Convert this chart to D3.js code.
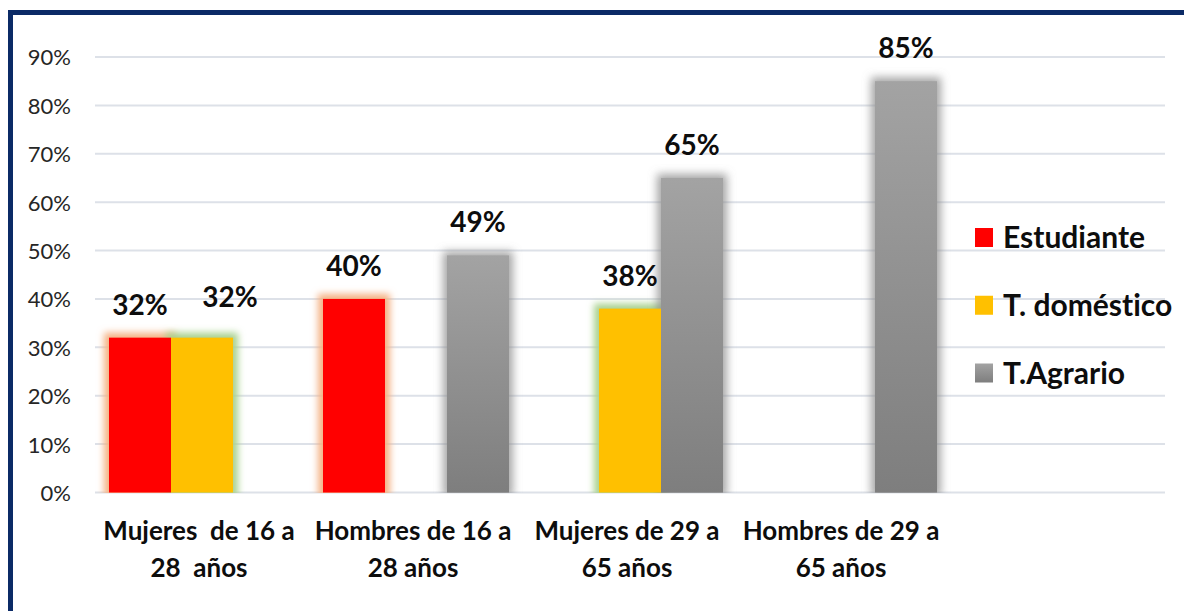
<!DOCTYPE html>
<html>
<head>
<meta charset="utf-8">
<script src="https://cdn.jsdelivr.net/npm/d3@7"></script>
<style>
  html, body { margin: 0; padding: 0; background: #fff; }
  svg { display: block; }
  text { font-variant-ligatures: none; font-feature-settings: "liga" 0, "clig" 0; }
</style>
</head>
<body>
<svg id="chart" width="1184" height="611"></svg>
<script>
// ---- data ----
const categories = ["Mujeres  de 16 a 28  años", "Hombres de 16 a 28 años", "Mujeres de 29 a 65 años", "Hombres de 29 a 65 años"];
const categoryLines = [["Mujeres  de 16 a", "28  años"], ["Hombres de 16 a", "28 años"], ["Mujeres de 29 a", "65 años"], ["Hombres de 29 a", "65 años"]];
const seriesNames = ["Estudiante", "T. doméstico", "T.Agrario"];
const estudiante = [0.32, 0.40, null, null];
const domestico = [0.32, null, 0.38, null];
const agrario = [null, 0.49, 0.65, 0.85];
const yTicks = [0, 0.1, 0.2, 0.3, 0.4, 0.5, 0.6, 0.7, 0.8, 0.9];

const seriesValues = [estudiante, domestico, agrario];
const seriesFill = ["#ff0000", "#ffc000", "url(#grayGrad)"];
const seriesGlow = ["glowRed", "glowGreen", "glowGray"];

const svg = d3.select("#chart");
const defs = svg.append("defs");

// gray gradient
const gg = defs.append("linearGradient").attr("id", "grayGrad")
  .attr("x1", 0).attr("y1", 0).attr("x2", 0).attr("y2", 1);
gg.append("stop").attr("offset", "0%").attr("stop-color", "#a3a3a3");
gg.append("stop").attr("offset", "100%").attr("stop-color", "#7e7e7e");

function glow(id, color, opacity, dil, blur) {
  const f = defs.append("filter").attr("id", id)
    .attr("x", "-50%").attr("y", "-50%").attr("width", "200%").attr("height", "200%");
  f.append("feMorphology").attr("in", "SourceAlpha").attr("operator", "dilate").attr("radius", dil).attr("result", "d");
  f.append("feGaussianBlur").attr("in", "d").attr("stdDeviation", blur).attr("result", "b");
  f.append("feFlood").attr("flood-color", color).attr("flood-opacity", opacity);
  f.append("feComposite").attr("in2", "b").attr("operator", "in");
}
glow("glowRed", "#f4b183", 1, 5, 3.5);
glow("glowGreen", "#a9d18e", 1, 5, 3.5);
glow("glowGray", "#8a8a8a", 0.75, 4, 4);

defs.append("clipPath").attr("id", "plotClip")
  .append("rect").attr("x", 0).attr("y", 0).attr("width", 1184).attr("height", 493);

// ---- scales ----
const x = d3.scaleBand().domain(categories).range([95, 951]).paddingInner(28 / 214).paddingOuter(14 / 214);
const xs = d3.scaleBand().domain(seriesNames).range([0, x.bandwidth()]).padding(0);
const y = d3.scaleLinear().domain([0, 0.9]).range([492.5, 57]);

// border
svg.append("path")
  .attr("d", "M10.5,620 L10.5,12.5 L1200,12.5")
  .attr("fill", "none").attr("stroke", "#0b2a66").attr("stroke-width", 5);

// gridlines
svg.append("g").selectAll("line").data(yTicks).join("line")
  .attr("x1", 95).attr("x2", 1165)
  .attr("y1", d => y(d)).attr("y2", d => y(d))
  .attr("stroke", "#dde1e8").attr("stroke-width", 2);

// y axis labels
const yAxis = d3.axisLeft(y).tickValues(yTicks).tickFormat(d3.format(".0%")).tickSize(0).tickPadding(0);
const yg = svg.append("g").attr("transform", "translate(71,0)").call(yAxis);
yg.select(".domain").remove();
yg.selectAll("text")
  .attr("font-family", "Lato, 'Liberation Sans', sans-serif")
  .attr("font-size", 22).attr("fill", "#262626").attr("dy", "0.36em");

// bars
const flat = [];
seriesValues.forEach((vals, si) => vals.forEach((v, ci) => {
  if (v != null) flat.push({ s: seriesNames[si], si, c: categories[ci], v });
}));

const glowLayer = svg.append("g").attr("clip-path", "url(#plotClip)");
glowLayer.selectAll("rect").data(flat).join("rect")
  .attr("x", d => x(d.c) + xs(d.s)).attr("width", xs.bandwidth())
  .attr("y", d => y(d.v)).attr("height", d => y(0) - y(d.v))
  .attr("fill", "#000").attr("filter", d => `url(#${seriesGlow[d.si]})`);

svg.append("g").selectAll("rect").data(flat).join("rect")
  .attr("x", d => x(d.c) + xs(d.s)).attr("width", xs.bandwidth())
  .attr("y", d => y(d.v)).attr("height", d => y(0) - y(d.v))
  .attr("fill", d => seriesFill[d.si]);

// data labels (one label nudged manually as in the original)
const nudge = (d) => (d.si === 1 && d.c === categories[0]) ? [28, -8] : [0, 0];
svg.append("g").selectAll("text").data(flat).join("text")
  .attr("x", d => x(d.c) + xs(d.s) + xs.bandwidth() / 2 + nudge(d)[0])
  .attr("y", d => y(d.v) - 23 + nudge(d)[1])
  .attr("text-anchor", "middle")
  .attr("font-family", "Lato, 'Liberation Sans', sans-serif")
  .attr("font-weight", "bold").attr("font-size", 28).attr("fill", "#0d0d0d")
  .text(d => d3.format(".0%")(d.v));

// x labels
const xl = svg.append("g").selectAll("text").data(categories).join("text")
  .attr("x", d => x(d) + x.bandwidth() / 2 - 3)
  .attr("text-anchor", "middle")
  .attr("font-family", "Lato, 'Liberation Sans', sans-serif")
  .attr("font-weight", "bold").attr("font-size", 26).attr("fill", "#0d0d0d")
  .attr("xml:space", "preserve");
xl.selectAll("tspan").data((d, i) => categoryLines[i]).join("tspan")
  .attr("x", function () { return d3.select(this.parentNode).attr("x"); })
  .attr("y", (d, i) => 540 + i * 37)
  .text(d => d);

// legend
const legendY = d3.scalePoint().domain(seriesNames).range([237.5, 373]);
const lg = svg.append("g").selectAll("g").data(seriesNames).join("g")
  .attr("transform", d => `translate(975,${legendY(d)})`);
lg.append("rect").attr("x", 0).attr("y", -9.5).attr("width", 18).attr("height", 19)
  .attr("fill", (d, i) => seriesFill[i]);
lg.append("text").attr("x", 28).attr("y", 0).attr("dy", "0.36em")
  .attr("font-family", "Lato, 'Liberation Sans', sans-serif")
  .attr("font-weight", "bold").attr("font-size", 30).attr("fill", "#0d0d0d")
  .text(d => d);
</script>
</body>
</html>
